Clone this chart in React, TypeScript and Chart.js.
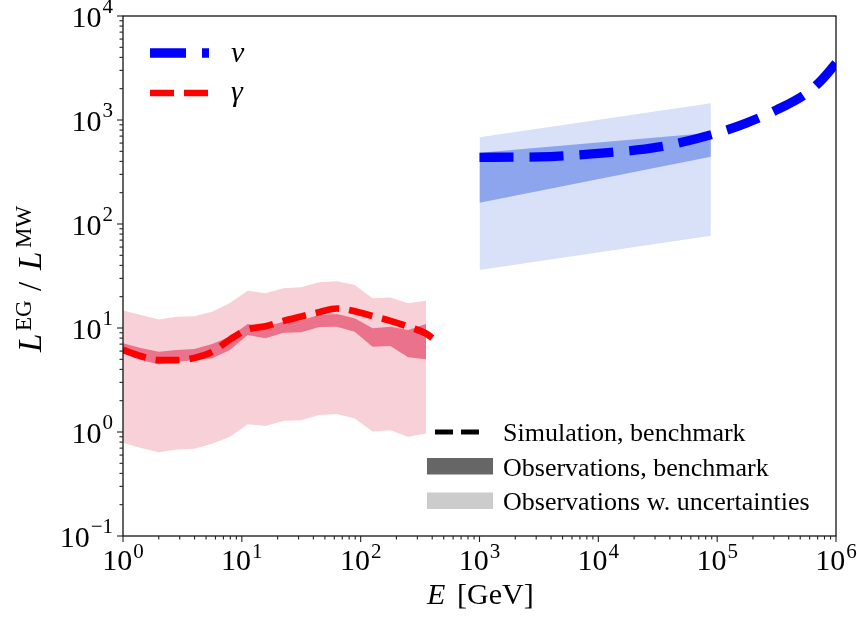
import React, { useEffect, useRef } from 'react';
import { Chart, registerables } from 'chart.js';

Chart.register(...registerables);

// ---------- data ----------
const gammaE = [1, 1.41, 2.0, 2.82, 3.98, 5.62, 7.94, 11.2, 15.8, 22.4, 31.6, 44.7, 63.1, 89.1, 126, 178, 251, 355];
const gammaLightUpper = [14.7, 13.3, 12.1, 12.8, 13.0, 14.3, 17.4, 22.8, 21.6, 24.1, 24.6, 27.5, 28.1, 25.9, 19.3, 19.7, 17.3, 18.3];
const gammaLightLower = [0.79, 0.7, 0.64, 0.68, 0.69, 0.77, 0.9, 1.19, 1.14, 1.28, 1.3, 1.46, 1.49, 1.35, 1.01, 1.04, 0.9, 0.97];
const gammaDarkUpper = [7.13, 6.42, 5.92, 6.14, 6.28, 7.02, 8.25, 10.9, 10.3, 11.5, 11.9, 13.3, 13.6, 12.4, 9.94, 10.3, 9.57, 10.9];
const gammaDarkLower = [5.71, 4.92, 4.48, 4.71, 4.92, 5.11, 6.14, 8.57, 7.96, 9.01, 9.09, 10.2, 10.3, 9.21, 6.61, 6.71, 5.23, 5.0];

const gammaSimE = [1, 1.41, 2.0, 2.82, 3.98, 5.62, 7.94, 11.2, 15.8, 22.4, 31.6, 44.7, 63.1, 89.1, 126, 178, 251, 355, 400];
const gammaSim = [6.14, 5.37, 4.92, 4.92, 5.15, 5.87, 7.75, 9.7, 10.4, 11.7, 12.9, 14.2, 15.4, 14.5, 13.0, 11.7, 10.3, 8.86, 8.0];

const nuBandE = [1000, 88500];
const nuLightUpper = [682, 1446];
const nuLightLower = [36.1, 77.2];
const nuDarkUpper = [485, 755];
const nuDarkLower = [160, 444];

const nuSimE = [1000, 3162, 10000, 31623, 100000, 177828, 316228, 562341, 749894, 1000000];
const nuSim = [438, 442, 478, 548, 750, 940, 1250, 1800, 2400, 3500];

const xMajorExp = [0, 1, 2, 3, 4, 5, 6];
const yMajorExp = [-1, 0, 1, 2, 3, 4];

const topLegendLabels = ['ν', 'γ'];
const bottomLegendLabels = ['Simulation, benchmark', 'Observations, benchmark', 'Observations w. uncertainties'];

// ---------- styles ----------
const FONT = '"Liberation Serif", "Times New Roman", serif';
const RED = '#ff0000';
const BLUE = '#0000ff';
const PINK_LIGHT = '#f8d0d8';
const PINK_DARK = '#ea728a';
const BLUE_LIGHT = '#d9e1f9';
const BLUE_DARK = '#8da5ed';

const pts = (xs: number[], ys: number[]) => xs.map((x, i) => ({ x, y: ys[i] }));

const expText = (e: number) => (e < 0 ? '\u2212' + Math.abs(e) : String(e));

const overlayPlugin = {
  id: 'overlay',
  afterDraw(chart: any) {
    const ctx: CanvasRenderingContext2D = chart.ctx;
    const { left, right, top, bottom } = chart.chartArea;
    const xs = chart.scales.x;
    const ys = chart.scales.y;
    ctx.save();

    // spines
    ctx.strokeStyle = '#000';
    ctx.lineWidth = 1.2;
    ctx.setLineDash([]);
    ctx.strokeRect(left, top, right - left, bottom - top);

    // ticks
    ctx.lineWidth = 1.1;
    ctx.strokeStyle = '#222';
    const drawXTick = (v: number, len: number) => {
      const px = xs.getPixelForValue(v);
      ctx.beginPath();
      ctx.moveTo(px, bottom);
      ctx.lineTo(px, bottom + len);
      ctx.stroke();
    };
    const drawYTick = (v: number, len: number) => {
      const py = ys.getPixelForValue(v);
      ctx.beginPath();
      ctx.moveTo(left, py);
      ctx.lineTo(left - len, py);
      ctx.stroke();
    };
    xMajorExp.forEach((e) => {
      drawXTick(Math.pow(10, e), 6);
      if (e < 6) for (let m = 2; m <= 9; m++) drawXTick(m * Math.pow(10, e), 3.5);
    });
    yMajorExp.forEach((e) => {
      drawYTick(Math.pow(10, e), 6);
      if (e < 4) for (let m = 2; m <= 9; m++) drawYTick(m * Math.pow(10, e), 3.5);
    });

    // tick labels
    ctx.fillStyle = '#000';
    ctx.textBaseline = 'alphabetic';
    ctx.textAlign = 'left';
    const baseFont = `30px ${FONT}`;
    const supFont = `21px ${FONT}`;
    xMajorExp.forEach((e) => {
      const px = xs.getPixelForValue(Math.pow(10, e));
      ctx.font = baseFont;
      const w1 = ctx.measureText('10').width;
      ctx.font = supFont;
      const et = expText(e);
      const w2 = ctx.measureText(et).width;
      const x0 = px - (w1 + w2 + 1) / 2;
      ctx.font = baseFont;
      ctx.fillText('10', x0, bottom + 34);
      ctx.font = supFont;
      ctx.fillText(et, x0 + w1 + 1, bottom + 22);
    });
    yMajorExp.forEach((e) => {
      const py = ys.getPixelForValue(Math.pow(10, e));
      ctx.font = supFont;
      const et = expText(e);
      const w2 = ctx.measureText(et).width;
      ctx.font = baseFont;
      const w1 = ctx.measureText('10').width;
      const xEnd = left - 10;
      ctx.fillText('10', xEnd - w2 - 1 - w1, py + 11);
      ctx.font = supFont;
      ctx.fillText(et, xEnd - w2, py - 3);
    });

    // x axis title
    ctx.font = `italic 30px ${FONT}`;
    ctx.fillText('E', 427, 604);
    ctx.font = `30px ${FONT}`;
    ctx.fillText('[GeV]', 457, 604);

    // y axis title (rotated)
    ctx.save();
    ctx.translate(41, 352);
    ctx.rotate(-Math.PI / 2);
    const mainF = `italic 33px ${FONT}`;
    const supF = `23px ${FONT}`;
    ctx.font = mainF;
    ctx.fillText('L', 0, 0);
    ctx.font = supF;
    ctx.fillText('EG', 21, -10);
    ctx.font = `33px ${FONT}`;
    ctx.fillText('/', 61, 0);
    ctx.font = mainF;
    ctx.fillText('L', 82, 0);
    ctx.font = supF;
    ctx.fillText('MW', 104, -10);
    ctx.restore();

    // top-left legend
    ctx.lineCap = 'butt';
    ctx.strokeStyle = BLUE;
    ctx.lineWidth = 9.3;
    ctx.setLineDash([36, 16]);
    ctx.beginPath();
    ctx.moveTo(150, 53);
    ctx.lineTo(209, 53);
    ctx.stroke();
    ctx.strokeStyle = RED;
    ctx.lineWidth = 6.7;
    ctx.setLineDash([24, 10]);
    ctx.beginPath();
    ctx.moveTo(150, 93);
    ctx.lineTo(209, 93);
    ctx.stroke();
    ctx.setLineDash([]);
    ctx.fillStyle = '#000';
    ctx.font = `italic 30px ${FONT}`;
    ctx.fillText(topLegendLabels[0], 231, 62);
    ctx.fillText(topLegendLabels[1], 231, 101);

    // bottom-right legend
    ctx.fillStyle = '#fff';
    ctx.fillRect(427, 414, 405, 106);
    ctx.strokeStyle = '#000';
    ctx.lineWidth = 5;
    ctx.setLineDash([18, 8]);
    ctx.beginPath();
    ctx.moveTo(435, 432);
    ctx.lineTo(479, 432);
    ctx.stroke();
    ctx.setLineDash([]);
    ctx.fillStyle = '#666666';
    ctx.fillRect(427, 458, 66, 16.5);
    ctx.fillStyle = '#cccccc';
    ctx.fillRect(427, 492.5, 66, 16.5);
    ctx.fillStyle = '#000';
    ctx.font = `26px ${FONT}`;
    ctx.fillText(bottomLegendLabels[0], 503, 441);
    ctx.fillText(bottomLegendLabels[1], 503, 476);
    ctx.fillText(bottomLegendLabels[2], 503, 510);

    ctx.restore();
  },
};

export default function App() {
  const canvasRef = useRef<HTMLCanvasElement | null>(null);

  useEffect(() => {
    if (!canvasRef.current) return;
    const bandStyle = (color: string, fill: any) => ({
      fill,
      backgroundColor: color,
      borderColor: 'transparent',
      borderWidth: 0,
      pointRadius: 0,
      tension: 0,
    });
    const chart = new Chart(canvasRef.current, {
      type: 'line',
      data: {
        datasets: [
          {
            label: 'nu sim',
            data: pts(nuSimE, nuSim),
            borderColor: BLUE,
            borderWidth: 9.3,
            borderDash: [34, 16],
            borderCapStyle: 'butt',
            pointRadius: 0,
            fill: false,
            cubicInterpolationMode: 'monotone',
          },
          {
            label: 'gamma sim',
            data: pts(gammaSimE, gammaSim),
            borderColor: RED,
            borderWidth: 6.7,
            borderDash: [24, 10],
            borderCapStyle: 'butt',
            pointRadius: 0,
            fill: false,
            cubicInterpolationMode: 'monotone',
          },
          { label: 'nu dark up', data: pts(nuBandE, nuDarkUpper), ...bandStyle(BLUE_DARK, '+1') },
          { label: 'nu dark low', data: pts(nuBandE, nuDarkLower), ...bandStyle(BLUE_DARK, false) },
          { label: 'g dark up', data: pts(gammaE, gammaDarkUpper), ...bandStyle(PINK_DARK, '+1') },
          { label: 'g dark low', data: pts(gammaE, gammaDarkLower), ...bandStyle(PINK_DARK, false) },
          { label: 'nu light up', data: pts(nuBandE, nuLightUpper), ...bandStyle(BLUE_LIGHT, '+1') },
          { label: 'nu light low', data: pts(nuBandE, nuLightLower), ...bandStyle(BLUE_LIGHT, false) },
          { label: 'g light up', data: pts(gammaE, gammaLightUpper), ...bandStyle(PINK_LIGHT, '+1') },
          { label: 'g light low', data: pts(gammaE, gammaLightLower), ...bandStyle(PINK_LIGHT, false) },
        ] as any,
      },
      options: {
        responsive: false,
        animation: false,
        devicePixelRatio: 1,
        layout: { padding: { left: 123, top: 16, right: 21, bottom: 84 } },
        scales: {
          x: { type: 'logarithmic', min: 1, max: 1e6, display: false },
          y: { type: 'logarithmic', min: 0.1, max: 1e4, display: false },
        },
        plugins: {
          legend: { display: false },
          tooltip: { enabled: false },
          title: { display: false },
        },
        elements: { point: { radius: 0 } },
      } as any,
      plugins: [overlayPlugin],
    });
    return () => chart.destroy();
  }, []);

  return (
    <div style={{ position: 'absolute', left: 0, top: 0, width: 857, height: 620, background: '#fff' }}>
      <canvas ref={canvasRef} width={857} height={620} style={{ width: 857, height: 620, display: 'block' }} />
    </div>
  );
}
